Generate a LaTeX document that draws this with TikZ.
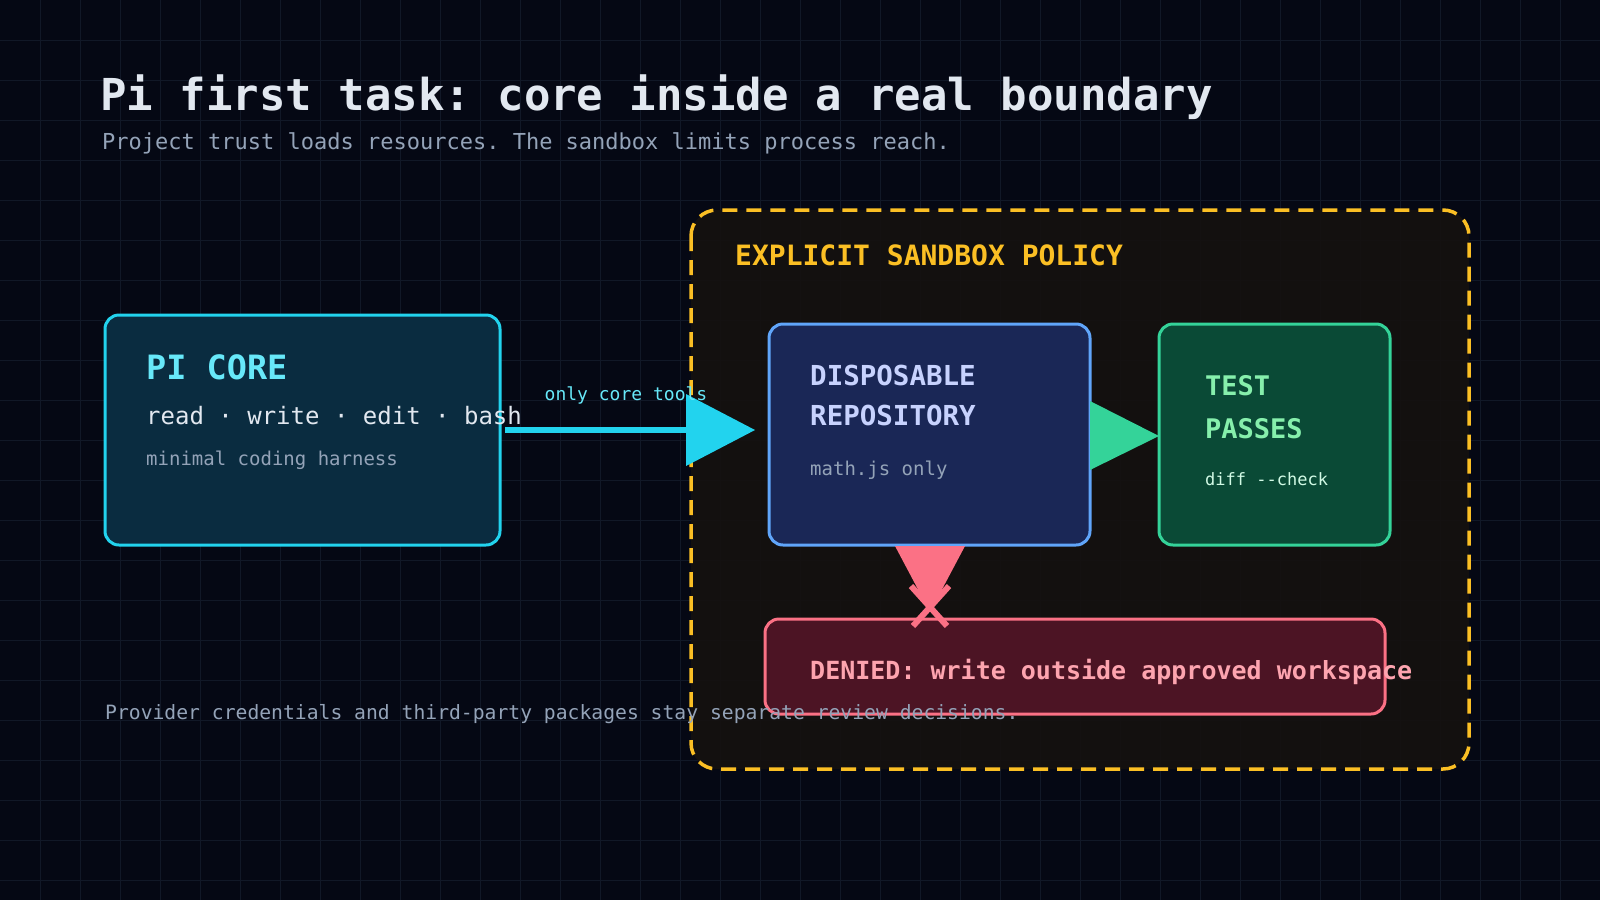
\documentclass[tikz,border=0pt]{standalone}
\usepackage{fontspec}
\setmainfont{DejaVu Sans Mono}
\frenchspacing
\definecolor{bg}{HTML}{050814}
\definecolor{gridc}{HTML}{111827}
\definecolor{cyanS}{HTML}{22D3EE}
\definecolor{cyanT}{HTML}{67E8F9}
\definecolor{coreF}{HTML}{0A2C40}
\definecolor{txt}{HTML}{E2E8F0}
\definecolor{muted}{HTML}{94A3B8}
\definecolor{amber}{HTML}{FBBF24}
\definecolor{sandF}{HTML}{15110F}
\definecolor{repoF}{HTML}{1A2756}
\definecolor{repoS}{HTML}{60A5FA}
\definecolor{repoT}{HTML}{C7D2FE}
\definecolor{testF}{HTML}{0A4A36}
\definecolor{testS}{HTML}{34D399}
\definecolor{testT}{HTML}{86EFAC}
\definecolor{testD}{HTML}{D1FAE5}
\definecolor{denF}{HTML}{4C1424}
\definecolor{denS}{HTML}{FB7185}
\definecolor{denT}{HTML}{FDA4AF}
\tikzset{
  lbl/.style={anchor=base west,inner sep=0pt},
  box/.style={rounded corners=14pt,line width=3pt},
}
\newcommand{\fs}[1]{\fontsize{#1}{#1}\selectfont}
\begin{document}
\begin{tikzpicture}[x=1pt,y=-1pt]
\fill[bg] (0,0) rectangle (1600,900);
\useasboundingbox (0,0) rectangle (1600,900);
\foreach \i in {40,80,...,1560} \draw[gridc,line width=0.8pt] (\i,0) -- (\i,900);
\foreach \i in {40,80,...,880} \draw[gridc,line width=0.8pt] (0,\i) -- (1600,\i);
% title
\node[lbl,text=txt] (title) at (100,110) {\fs{44}\bfseries Pi first task: core inside a real boundary};
\node[lbl,text=muted] (sub) at (102,149) {\fs{22}Project trust loads resources. The sandbox limits process reach.};
% sandbox
\draw[amber,fill=sandF,fill opacity=0.9,line width=3.5pt,dash pattern=on 15pt off 9pt,rounded corners=26pt] (691,210) rectangle (1469,769);
\node[lbl,text=amber] (sbl) at (735,265) {\fs{28}\bfseries EXPLICIT SANDBOX POLICY};
% core
\draw[box,cyanS,fill=coreF] (105,315) rectangle (500,545);
\node[lbl,text=cyanT] (pc) at (146,379) {\fs{33.5}\bfseries PI CORE};
% repo
\draw[box,repoS,fill=repoF] (769,324) rectangle (1090,545);
\node[lbl,text=repoT] (r1) at (810,385) {\fs{27.5}\bfseries DISPOSABLE};
\node[lbl,text=repoT] (r2) at (810,425) {\fs{27.5}\bfseries REPOSITORY};
\node[lbl,text=muted] (r3) at (810,475) {\fs{19}math.js only};
% test
\draw[box,testS,fill=testF] (1159,324) rectangle (1390,545);
\node[lbl,text=testT] (t1) at (1205,395) {\fs{27}\bfseries TEST};
\node[lbl,text=testT] (t2) at (1205,438) {\fs{27}\bfseries PASSES};
\node[lbl,text=testD] (t3) at (1205,485) {\fs{17}diff -{}-check};
% denied
\draw[box,denS,fill=denF] (765,619) rectangle (1385,714);
% arrows
\coordinate (a0) at (505,430);
\coordinate (a1) at (690,430);
\draw[cyanS,line width=6pt] (a0) -- (a1);
\fill[cyanS] (686,394) -- (755,430) -- (686,466) -- cycle;
\node[text=cyanT,inner sep=0pt,anchor=base] (oct) at (626,400) {\fs{18}only core tools};
\node[lbl,text=txt] (pcr) at (146,424) {\fs{24}read · write · edit · bash};
\node[lbl,text=muted] (pch) at (146,465) {\fs{19}minimal coding harness};
\fill[testS] (1090,401) -- (1159,436) -- (1090,470) -- cycle;
\fill[denS] (895,546) -- (965,546) -- (930,612) -- cycle;
\draw[denS,line width=6pt] (911,586) -- (947,626);
\draw[denS,line width=6pt] (949,586) -- (913,626);
\node[lbl,text=denT] (dn) at (810,679) {\fs{25}\bfseries DENIED: write outside approved workspace};
% footer
\node[lbl,text=muted] (ft) at (105,719) {\fs{19.7}Provider credentials and third-party packages stay separate review decisions.};
\end{tikzpicture}
\end{document}
